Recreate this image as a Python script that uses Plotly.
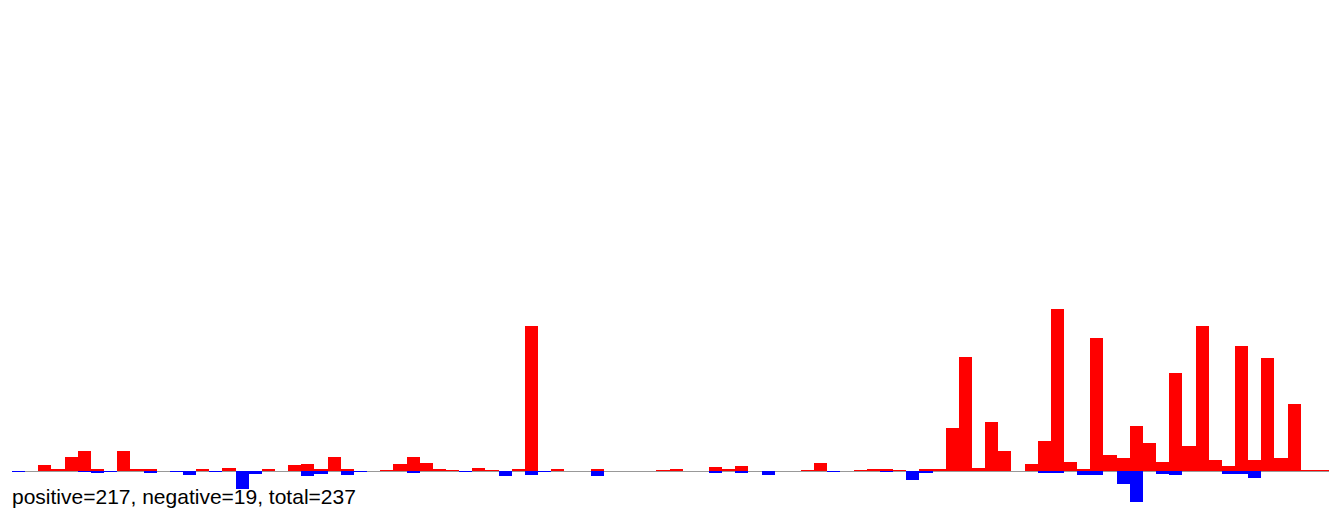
import plotly.graph_objects as go

# bar values, one slot per bar
slots = list(range(101))

positive = [
    0, 0, 6.5, 1.5, 14, 20, 1.5, 0, 20, 2.5,
    1.5, 0, 0, 0, 1.5, 0, 3, 0, 0, 2.5,
    0, 6.5, 7, 2.5, 14, 1.5, 0, 0, 1, 7,
    14, 8, 1.5, 1, 0, 3, 1, 0, 1.5, 145,
    0, 2.5, 0, 0, 1.5, 0, 0, 0, 0, 1,
    1.5, 0, 0, 4, 1.5, 5.5, 0, 0, 0, 0,
    1, 8, 0, 0, 1, 2.5, 2.5, 1, 0, 1.5,
    1.5, 43.5, 114.5, 3, 49, 20, 0, 7, 30, 162,
    9, 1.5, 133, 16, 13, 45, 28, 9, 98, 25,
    145, 11, 5, 125, 11, 113, 13, 67, 1, 1,
    1,
]

negative = [
    -1, 0, 0, 0, 0, -1, -2, -1, 0, 0,
    -2, 0, -1, -3.5, 0, -1, 0, -18, -2.5, 0,
    0, 0, -4.5, -2.5, 0, -3.5, -1, 0, 0, 0,
    -2, 0, 0, 0, -1, 0, 0, -5, 0, -3.5,
    -1, 0, 0, 0, -5, 0, 0, 0, 0, 0,
    0, 0, 0, -2, 0, -2, 0, -3.5, 0, 0,
    0, 0, -1, 0, 0, 0, -1, 0, -9, -2,
    0, 0, 0, 0, 0, 0, 0, 0, -2, -2,
    0, -3.5, -3.5, 0, -13, -31, 0, -3, -3.5, 0,
    0, 0, -3, -3, -7, 0, 0, 0, 0, 0,
    0,
]

n_pos, n_neg, n_total = 217, 19, 237

fig = go.Figure()
fig.add_trace(go.Bar(x=slots, y=positive, marker=dict(color="#ff0000", line=dict(width=0)),
                     name="positive"))
fig.add_trace(go.Bar(x=slots, y=negative, marker=dict(color="#0000ff", line=dict(width=0)),
                     name="negative"))

fig.add_annotation(
    text=f"positive={n_pos}, negative={n_neg}, total={n_total}",
    xref="paper", x=0, xanchor="left", xshift=-2,
    yref="y", y=-25, yanchor="middle",
    showarrow=False,
    font=dict(family="Liberation Sans, Arial, sans-serif", size=21, color="#000000"),
)

# the page body has an 8px margin, so the figure is a bit smaller than the window
fig.update_layout(
    width=1329, height=500,
    margin=dict(l=4, r=0, t=0, b=0),
    barmode="relative",
    bargap=0,
    showlegend=False,
    plot_bgcolor="white",
    paper_bgcolor="white",
    xaxis=dict(range=[-0.5, 100.26], showgrid=False, zeroline=False,
               showticklabels=False, ticks="", showline=False),
    yaxis=dict(range=[-37, 463], showgrid=False, zeroline=True,
               zerolinecolor="#999999", zerolinewidth=1,
               showticklabels=False, ticks="", showline=False),
)

fig.write_html("out.html")
